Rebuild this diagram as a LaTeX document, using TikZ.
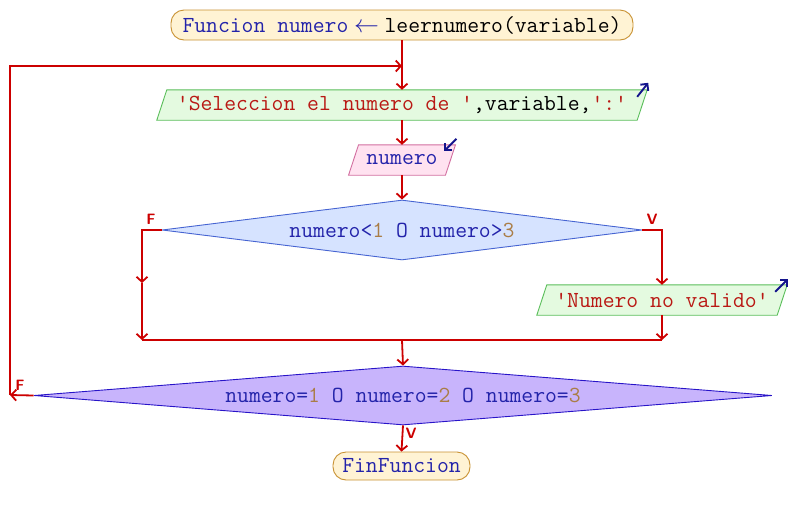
\documentclass[tikz,border=0pt]{standalone}
\usetikzlibrary{shapes.geometric,arrows.meta,calc,backgrounds}
\definecolor{flowred}{RGB}{204,0,0}
\definecolor{termfill}{RGB}{255,243,212}
\definecolor{termdraw}{RGB}{200,145,50}
\definecolor{outfill}{RGB}{228,250,224}
\definecolor{outdraw}{RGB}{90,190,90}
\definecolor{infill}{RGB}{255,226,240}
\definecolor{indraw}{RGB}{210,110,160}
\definecolor{dafill}{RGB}{214,227,255}
\definecolor{dadraw}{RGB}{70,100,210}
\definecolor{dbfill}{RGB}{200,180,252}
\definecolor{dbdraw}{RGB}{40,20,200}
\definecolor{kwc}{RGB}{35,35,170}
\definecolor{strc}{RGB}{185,25,20}
\definecolor{numc}{RGB}{170,125,70}
\definecolor{markc}{RGB}{20,20,140}
\newcommand{\kw}[1]{\textcolor{kwc}{#1}}
\newcommand{\st}[1]{\textcolor{strc}{#1}}
\newcommand{\nm}[1]{\textcolor{numc}{#1}}
\newcommand{\qq}{\textquotesingle}
\begin{document}
\begin{tikzpicture}[x=1pt,y=-1pt,
  every node/.style={font=\ttfamily\fontsize{23}{26}\selectfont, inner sep=0pt},
  term/.style={draw=termdraw, fill=termfill, line width=0.9pt, rounded corners=13pt, minimum height=30pt},
  iobox/.style={minimum height=30pt},
  dia/.style={diamond, line width=0.9pt},
  flow/.style={draw=flowred, line width=1.8pt},
  arr/.style={-{Straight Barb[length=5pt,width=11pt]}},
  lab/.style={text=flowred, font=\sffamily\bfseries\fontsize{15}{15}\selectfont},
  rwmark/.style={draw=markc, line width=1.9pt, -{Straight Barb[length=5pt,width=10pt]}},
  paraout/.style={fill=outfill, draw=outdraw, line width=0.9pt},
  parain/.style={fill=infill, draw=indraw, line width=0.9pt},
]
\useasboundingbox (0,0) rectangle (812,515);

\node[term, minimum width=462pt] (start) at (402,25) {\kw{Funcion numero}\makebox[1.575em]{\kw{$\leftarrow$}}leernumero(variable)};
\node[iobox, minimum width=480pt] (out1) at (402,105) {\st{\qq Seleccion el numero de \qq},variable,\st{\qq:\qq}};
\node[iobox, minimum width=96.5pt] (in1) at (402,160) {\kw{numero}};
\node[dia, fill=dafill, draw=dadraw, minimum width=480pt, minimum height=60pt, shape aspect=8] (d1) at (402,230) {\kw{numero<}\nm{1} \kw{O numero>}\nm{3}};
\node[iobox, minimum width=240pt] (out2) at (662,300) {\st{\qq Numero no valido\qq}};
\node[dia, fill=dbfill, draw=dbdraw, minimum width=738pt, minimum height=59pt, shape aspect=12.5] (d2) at (403,395.5) {\kw{numero=}\nm{1} \kw{O numero=}\nm{2} \kw{O numero=}\nm{3}};
\node[term, minimum width=137pt, minimum height=28pt] (fin) at (401.5,466) {\kw{FinFuncion}};

\begin{scope}[on background layer]
\draw[paraout] ($(out1.south west)+(-5,0)$) -- ($(out1.north west)+(5,0)$) -- ($(out1.north east)+(5,0)$) -- ($(out1.south east)+(-5,0)$) -- cycle;
\draw[parain] ($(in1.south west)+(-5,0)$) -- ($(in1.north west)+(5,0)$) -- ($(in1.north east)+(5,0)$) -- ($(in1.south east)+(-5,0)$) -- cycle;
\draw[paraout] ($(out2.south west)+(-5,0)$) -- ($(out2.north west)+(5,0)$) -- ($(out2.north east)+(5,0)$) -- ($(out2.south east)+(-5,0)$) -- cycle;
\end{scope}

\coordinate (j1) at (402,66);
\coordinate (fl) at (142,230);
\coordinate (flm) at (142,283);
\coordinate (flb) at (142,340);
\coordinate (vr) at (662,230);
\coordinate (vb) at (662,340);
\coordinate (mj) at (402,340);
\coordinate (lp1) at (10,395);
\coordinate (lp2) at (10,66);

\draw[flow,arr] (start.south) -- (out1.north);
\draw[flow,arr] (out1.south) -- (in1.north);
\draw[flow,arr] (in1.south) -- (d1.north);
\draw[flow,arr] (d1.west) -- (fl) -- (flm);
\draw[flow,arr] (flm) -- (flb);
\draw[flow,arr] (d1.east) -- (vr) -- (out2.north);
\draw[flow,arr] (out2.south) -- (vb);
\draw[flow] (flb) -- (vb);
\draw[flow,arr] (mj) -- (d2.north);
\draw[flow,arr] (d2.south) -- (fin.north);
\draw[flow,arr] (d2.west) -- (lp1);
\draw[flow,arr] (lp1) -- (lp2) -- (j1);

\node[lab] (fla) at (151,219) {F};
\node[lab] (vla) at (652,219) {V};
\node[lab] (flb2) at (20,385) {F};
\node[lab] (vlb) at (411,433) {V};

\draw[rwmark] ($(out1.north east)+(-5,7)$) -- ($(out1.north east)+(6,-7)$);
\draw[rwmark] ($(in1.north east)+(6,-6)$) -- ($(in1.north east)+(-6,6)$);
\draw[rwmark] ($(out2.north east)+(-7,7)$) -- ($(out2.north east)+(6,-6)$);
\end{tikzpicture}
\end{document}
